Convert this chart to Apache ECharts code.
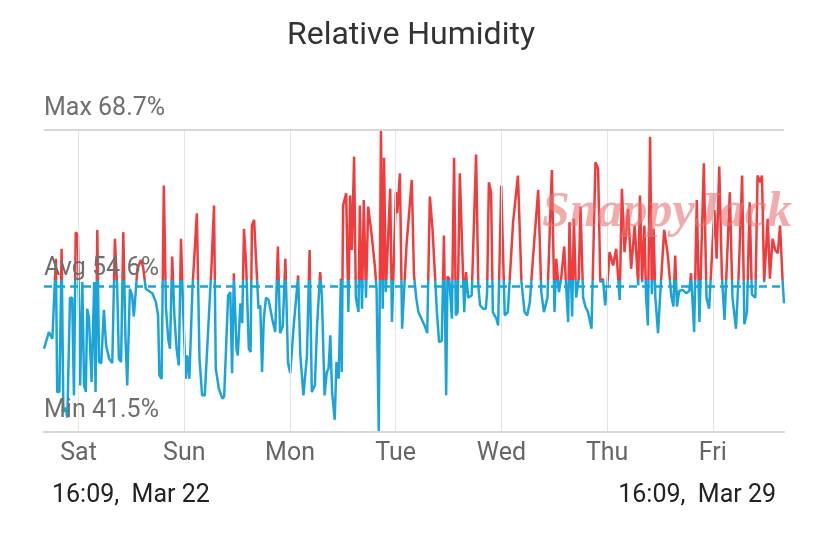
<!DOCTYPE html>
<html>
<head>
<meta charset="utf-8">
<title>Relative Humidity</title>
<script src="https://cdn.jsdelivr.net/npm/echarts@6/dist/echarts.min.js"></script>
<style>
    html, body { margin: 0; padding: 0; background: #fff; }
    #chart { width: 822px; height: 542px; }
</style>
</head>
<body>
<div id="chart"></div>
<script>
// hours since 16:09 Mar 22 (start of the 7 day window)
const hours = [
    0.0, 1.1, 1.9, 2.7, 3.0, 3.5, 4.0, 4.4, 4.9, 5.3, 5.9, 6.4, 6.8, 7.2, 7.7, 8.2, 8.7, 9.1, 9.5, 9.8,
    10.2, 10.8, 11.4, 11.7, 12.1, 12.5, 13.0, 13.6, 14.1, 14.8, 15.5, 16.1, 16.6, 17.0, 17.5, 18.0, 18.5, 18.9, 19.5, 20.0,
    20.4, 21.2, 22.0, 22.5, 23.1, 23.8, 24.6, 25.4, 25.9, 26.2, 26.7, 27.2, 27.7, 28.2, 28.6, 29.1, 29.6, 30.1, 30.6, 31.1,
    31.6, 32.2, 32.5, 33.0, 33.7, 34.7, 35.3, 35.9, 36.5, 37.4, 38.0, 38.6, 39.0, 39.7, 40.1, 40.5, 40.9, 41.8, 42.3, 42.7,
    43.1, 43.7, 44.0, 44.6, 45.0, 45.4, 45.9, 46.5, 46.9, 47.2, 47.7, 48.4, 48.7, 49.1, 49.5, 49.9, 50.4, 51.0, 51.8, 52.5,
    53.1, 53.6, 54.2, 54.8, 55.4, 55.9, 56.7, 57.7, 58.2, 58.9, 59.7, 60.3, 60.8, 61.5, 62.0, 62.7, 63.1, 63.7, 64.2, 64.6,
    65.0, 65.4, 66.0, 66.4, 66.9, 67.4, 67.6, 67.9, 68.6, 69.1, 69.5, 69.9, 70.4, 70.8, 71.4, 71.7, 72.2, 72.6, 73.1, 73.6,
    74.4, 75.1, 75.5, 76.0, 76.5, 76.9, 77.2, 77.6, 78.6, 79.0, 79.9, 80.2, 80.8, 81.3, 81.7, 82.3, 83.5, 84.0, 84.5, 85.0,
    85.7, 86.5, 87.0, 87.6, 88.2, 89.2, 89.7, 90.3, 90.8, 91.3, 91.6, 92.0, 92.6, 93.1, 93.5, 93.9, 94.4, 95.4, 95.8, 96.3,
    97.1, 98.1, 98.6, 99.0, 99.7, 100.3, 100.6, 101.0, 101.5, 101.9, 102.7, 103.1, 103.8, 104.6, 105.3, 106.5, 107.6, 108.4, 109.1, 109.7,
    110.3, 111.0, 112.2, 112.9, 113.5, 114.3, 115.3, 115.9, 116.3, 116.9, 117.4, 118.1, 118.4, 119.0, 119.3, 119.9, 120.3, 120.8, 121.4, 121.8,
    122.4, 122.9, 123.5, 124.3, 125.2, 125.8, 126.3, 126.9, 127.4, 127.9, 128.4, 129.2, 129.9, 130.7, 131.2, 131.8, 132.6, 133.3, 134.1, 134.9,
    135.3, 135.8, 136.3, 136.7, 137.1, 137.6, 138.0, 138.4, 138.8, 139.4, 139.9, 140.8, 141.6, 142.4, 142.9, 143.3, 143.7, 144.2, 145.0, 145.8,
    146.5, 146.9, 147.6, 148.2, 148.8, 149.8, 150.4, 151.0, 152.2, 152.7, 153.3, 153.9, 154.5, 155.2, 155.7, 156.3, 157.1, 157.7, 158.5, 159.0,
    159.6, 160.2, 160.7, 161.5, 162.0, 162.6, 163.0, 163.5, 164.3, 164.8, 165.4, 166.0, 166.6, 167.1, 167.7, 168.0
];

// relative humidity readings, %
const humidity = [
    49.0, 50.5, 49.9, 57.1, 45.1, 45.1, 58.0, 43.3, 43.7, 42.8, 53.6, 53.6, 44.8, 59.5, 59.2, 45.7, 55.0, 45.7, 45.1, 52.6,
    51.8, 46.0, 55.0, 45.1, 59.7, 47.8, 47.7, 52.5, 49.3, 48.1, 47.7, 58.9, 54.7, 48.1, 47.8, 59.5, 49.9, 45.7, 54.4, 53.8,
    51.9, 56.2, 57.0, 56.4, 54.4, 54.2, 54.0, 53.2, 52.0, 46.6, 46.3, 63.7, 52.6, 49.9, 49.0, 57.3, 52.0, 49.0, 47.5, 58.9,
    52.3, 46.3, 48.4, 46.3, 54.4, 61.2, 48.1, 44.8, 44.8, 51.7, 56.2, 61.9, 47.2, 45.4, 45.3, 44.5, 44.7, 53.8, 54.1, 46.8,
    55.8, 49.0, 48.4, 53.1, 51.3, 59.8, 56.5, 49.0, 48.7, 60.1, 60.6, 55.0, 52.6, 52.9, 46.9, 51.7, 53.6, 53.4, 51.7, 50.5,
    58.2, 50.4, 51.0, 57.1, 47.7, 46.8, 51.1, 55.6, 48.4, 44.8, 48.4, 57.9, 45.1, 45.7, 51.1, 55.9, 53.6, 44.8, 46.9, 47.2,
    50.2, 45.1, 42.6, 47.8, 46.3, 55.3, 46.9, 61.9, 63.0, 52.3, 62.8, 57.9, 66.3, 53.6, 52.3, 61.9, 52.6, 62.4, 53.6, 61.8,
    59.2, 56.5, 54.4, 41.5, 68.7, 52.6, 66.2, 54.1, 63.4, 51.4, 63.1, 61.2, 64.8, 50.8, 50.8, 58.3, 64.2, 55.6, 53.6, 52.3,
    51.7, 51.0, 50.4, 62.7, 59.8, 52.3, 49.6, 49.7, 59.2, 44.8, 55.5, 55.3, 51.7, 66.2, 52.0, 52.3, 64.8, 52.3, 55.9, 53.6,
    53.8, 66.5, 54.7, 52.9, 52.6, 52.6, 54.1, 64.0, 63.1, 52.3, 51.7, 51.1, 63.7, 52.0, 52.3, 60.4, 64.6, 55.0, 52.3, 52.0,
    53.2, 57.1, 63.3, 54.1, 52.3, 53.6, 65.1, 52.3, 57.1, 54.1, 55.3, 58.2, 55.6, 51.4, 60.4, 51.9, 60.7, 53.6, 55.3, 61.8,
    53.6, 52.8, 52.3, 50.8, 65.8, 65.2, 55.0, 55.3, 52.9, 54.7, 57.7, 56.5, 58.0, 53.4, 63.4, 57.7, 61.6, 56.2, 60.1, 54.7,
    62.8, 55.0, 60.1, 53.6, 51.1, 68.1, 53.9, 59.8, 53.6, 50.4, 53.9, 59.7, 57.5, 53.8, 52.8, 57.4, 52.8, 54.2, 54.3, 54.0,
    54.2, 55.8, 50.5, 62.4, 51.4, 65.7, 53.6, 52.6, 61.5, 57.1, 65.4, 55.6, 51.6, 58.3, 63.1, 53.6, 50.8, 55.6, 64.6, 51.2,
    52.3, 62.2, 53.9, 53.6, 64.6, 64.0, 64.6, 55.0, 60.7, 55.3, 58.9, 57.9, 57.6, 60.1, 55.0, 53.1
];

// summary values shown on the chart
const maxValue = 68.7;
const avgValue = 54.6;
const minValue = 41.5;
const colorSplit = 55.2;   // line turns red above this

// day labels sit on the midnight grid lines
const dayNames = ['Sat', 'Sun', 'Mon', 'Tue', 'Wed', 'Thu', 'Fri'];
const firstMidnight = 7.85;   // hours from 16:09 to 00:00
const dayTicks = dayNames.map((d, i) => firstMidnight + i * 24);

const startLabel = '16:09,  Mar 22';
const endLabel = '16:09,  Mar 29';

const RED = '#f03c3c';
const BLUE = '#1ba4d8';
const FONT = 'Roboto, "Noto Sans", sans-serif';

document.addEventListener('DOMContentLoaded', function() {
    initChart();
});

function initChart() {
    const chart = echarts.init(document.getElementById('chart'), null, { renderer: 'canvas' });

    const seriesData = hours.map((h, i) => [h, humidity[i]]);

    // hard red/blue split of the stroke, relative to the line's own bounding box
    const dataMax = Math.max(...humidity);
    const dataMin = Math.min(...humidity);
    const splitAt = (dataMax - colorSplit) / (dataMax - dataMin);
    const lineColor = new echarts.graphic.LinearGradient(0, 0, 0, 1, [
        { offset: 0, color: RED },
        { offset: splitAt, color: RED },
        { offset: splitAt, color: BLUE },
        { offset: 1, color: BLUE }
    ]);

    // text label above a horizontal reference line
    function refLabel(text, gap) {
        return {
            show: true,
            position: 'insideStartTop',
            distance: [0, gap],
            formatter: text,
            color: '#6f6f6f',
            fontFamily: FONT,
            fontSize: 25
        };
    }

    const option = {
        animation: false,
        backgroundColor: '#fff',
        title: {
            text: 'Relative Humidity',
            left: 'center',
            top: 15,
            textStyle: {
                fontFamily: FONT,
                fontSize: 32,
                fontWeight: 'normal',
                color: '#333'
            }
        },
        grid: {
            left: 44,
            right: 38,
            top: 130,
            bottom: 110
        },
        xAxis: {
            type: 'value',
            min: 0,
            max: 168,
            axisLine: { show: true, lineStyle: { color: '#d6d6d6', width: 2 } },
            axisTick: { show: false },
            splitLine: { show: false },
            axisLabel: {
                customValues: dayTicks,
                formatter: function(v) {
                    return dayNames[Math.round((v - firstMidnight) / 24)];
                },
                margin: 9,
                color: '#666',
                fontFamily: FONT,
                fontSize: 25
            }
        },
        yAxis: {
            type: 'value',
            min: minValue,
            max: maxValue,
            axisLine: { show: false },
            axisTick: { show: false },
            axisLabel: { show: false },
            splitLine: { show: false }
        },
        series: [
            {
                name: 'Humidity',
                type: 'line',
                data: seriesData,
                showSymbol: false,
                z: 3,
                lineStyle: { width: 2.5, color: lineColor }
            },
            {
                // reference lines: day grid, max / avg / min
                name: 'refs',
                type: 'line',
                data: [],
                z: 4,
                markLine: {
                    silent: true,
                    symbol: 'none',
                    animation: false,
                    data: [
                        ...dayTicks.map(t => ({
                            xAxis: t,
                            label: { show: false },
                            lineStyle: { color: '#e4e4e4', width: 1, type: 'solid' }
                        })),
                        {
                            yAxis: maxValue,
                            label: refLabel('Max ' + maxValue + '%', 9),
                            lineStyle: { color: '#d6d6d6', width: 2, type: 'solid' }
                        },
                        {
                            yAxis: avgValue,
                            label: refLabel('Avg ' + avgValue + '%', 5),
                            lineStyle: { color: BLUE, width: 2.5, type: [8, 5] }
                        },
                        {
                            yAxis: minValue,
                            label: refLabel('Min ' + minValue + '%', 9),
                            lineStyle: { color: '#d6d6d6', width: 2, type: 'solid' }
                        }
                    ]
                }
            }
        ],
        graphic: [
            {
                // watermark
                type: 'text',
                left: 542,
                top: 188,
                z: 100,
                style: {
                    text: 'SnappyJack',
                    font: 'italic bold 50px "Liberation Serif", serif',
                    fill: 'rgba(232, 115, 115, 0.6)'
                }
            },
            {
                type: 'text',
                left: 52,
                top: 483,
                style: {
                    text: startLabel,
                    font: '25px ' + FONT,
                    fill: '#222'
                }
            },
            {
                type: 'text',
                right: 46,
                top: 483,
                style: {
                    text: endLabel,
                    font: '25px ' + FONT,
                    fill: '#222'
                }
            }
        ]
    };

    chart.setOption(option);
}
</script>
</body>
</html>
